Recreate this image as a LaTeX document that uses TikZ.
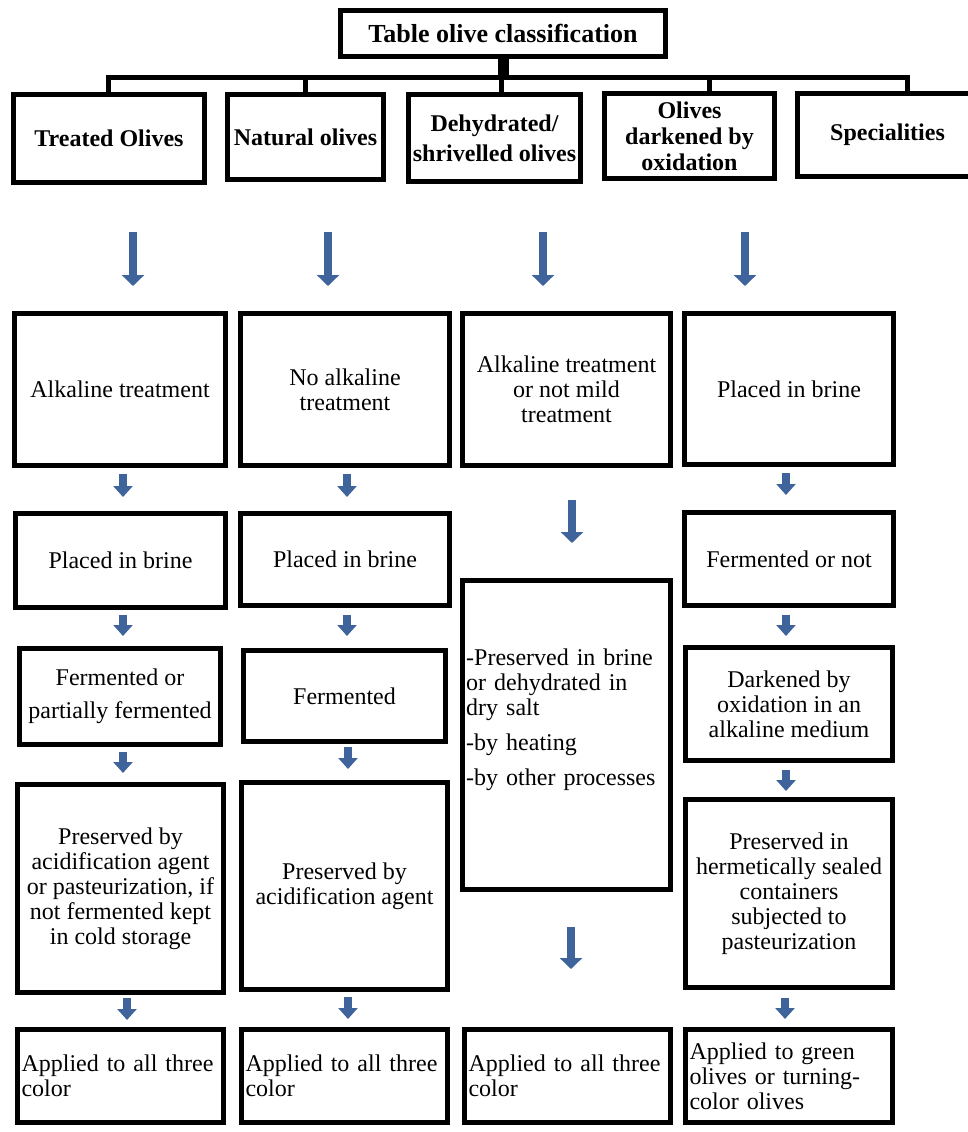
\documentclass[tikz,border=0pt]{standalone}
\usepackage{fontspec}
\setmainfont{Liberation Serif}
\usetikzlibrary{arrows.meta}
\definecolor{arrowblue}{RGB}{62,100,155}
\tikzset{
  box/.style={draw=black, line width=5pt, inner sep=2pt, align=center,
              font=\fontsize{24}{25}\selectfont},
  hbox/.style={box, font=\bfseries\fontsize{24}{26}\selectfont},
  lbox/.style={box, align=left, inner xsep=4pt},
  bigarr/.style={draw=arrowblue, line width=8pt, -{Triangle[width=22pt,length=11pt]}},
  smallarr/.style={draw=arrowblue, line width=7.5pt, -{Triangle[width=19pt,length=11pt]}},
  conn/.style={draw=black, line width=5pt, line join=miter}
}
\begin{document}
\begin{tikzpicture}[x=1pt,y=-1pt]
\useasboundingbox (0,0) rectangle (967,1132);

% title
\node[hbox, font=\bfseries\fontsize{26}{28}\selectfont, minimum width=325pt, minimum height=46pt] (title) at (503,33.5) {Table olive classification};

% row 1
\node[hbox, minimum width=191pt, minimum height=88pt] (r1a) at (109,138.5) {Treated Olives};
\node[hbox, minimum width=156pt, minimum height=85pt] (r1b) at (305.5,137) {Natural olives};
\node[hbox, font=\bfseries\fontsize{24}{30}\selectfont, minimum width=172pt, minimum height=87pt] (r1c) at (494.5,138) {Dehydrated/\\shrivelled olives};
\node[hbox, minimum width=170pt, minimum height=85pt] (r1d) at (689.5,136) {Olives\\darkened by\\oxidation};
\node[hbox, minimum width=180pt, minimum height=83pt] (r1e) at (887.5,135) {Specialities};

% bus connectors
\coordinate (busL) at (108,77);
\coordinate (busR) at (907,77);
\coordinate (j2) at (305,77);
\coordinate (j3) at (501,77);
\coordinate (j4) at (709,77);
\draw[conn, line width=11pt] (title.south) -- (title.south |- busL);
\draw[conn] (busL |- r1a.north) -- (busL) -- (busR) -- (busR |- r1e.north);
\draw[conn] (j2) -- (j2 |- r1b.north);
\draw[conn] (j3) -- (j3 |- r1c.north);
\draw[conn] (j4) -- (j4 |- r1d.north);

% row 2
\node[box, minimum width=211pt, minimum height=152pt] (r2a) at (120,389.5) {Alkaline treatment};
\node[box, minimum width=209pt, minimum height=152pt] (r2b) at (345,389.5) {No alkaline\\treatment};
\node[box, minimum width=208pt, minimum height=152pt] (r2c) at (566.5,389.5) {Alkaline treatment\\or not mild\\treatment};
\node[box, minimum width=209pt, minimum height=151pt] (r2d) at (789,389) {Placed in brine};

% row 3
\node[box, minimum width=210pt, minimum height=94pt] (r3a) at (120.5,560.5) {Placed in brine};
\node[box, minimum width=209pt, minimum height=92pt] (r3b) at (345,559.5) {Placed in brine};
\node[box, minimum width=208pt, minimum height=309pt] (r3c) at (566.5,735) {};
\node[anchor=north west, inner sep=0pt, align=left, text width=205pt,
      font=\fontsize{24}{25}\selectfont] (c3txt) at (466,649)
  {-Preserved in brine\\or dehydrated in\\dry salt\\[10pt]-by heating\\[10pt]-by other processes};
\node[box, minimum width=209pt, minimum height=93pt] (r3d) at (789,559) {Fermented or not};

% row 4
\node[box, minimum width=201pt, minimum height=96pt] (r4a) at (120,696.5) {Fermented or\\[8pt]partially fermented};
\node[box, minimum width=202pt, minimum height=91pt] (r4b) at (344.5,696) {Fermented};
\node[box, minimum width=207pt, minimum height=113pt] (r4d) at (789,704) {Darkened by\\oxidation in an\\alkaline medium};

% row 5
\node[box, minimum width=206pt, minimum height=208pt] (r5a) at (120.5,888.5) {Preserved by\\acidification agent\\or pasteurization, if\\not fermented kept\\in cold storage};
\node[box, minimum width=206pt, minimum height=207pt] (r5b) at (344.5,886) {Preserved by\\acidification agent};
\node[box, minimum width=207pt, minimum height=188pt] (r5d) at (789,893.5) {Preserved in\\hermetically sealed\\containers\\subjected to\\pasteurization};

% row 6
\node[lbox, text width=198pt, minimum height=93pt] (r6a) at (120.5,1076) {Applied to all three\\color};
\node[lbox, text width=198pt, minimum height=93pt] (r6b) at (344.5,1076) {Applied to all three\\color};
\node[lbox, text width=198pt, minimum height=93pt] (r6c) at (567.5,1076) {Applied to all three\\color};
\node[lbox, text width=199pt, minimum height=93pt] (r6d) at (789,1076) {Applied to green\\olives or turning-\\color olives};

% big arrows row1 -> row2
\coordinate (a1s) at (133,232); \coordinate (a1e) at (133,286);
\coordinate (a2s) at (328,232); \coordinate (a2e) at (328,286);
\coordinate (a3s) at (543,232); \coordinate (a3e) at (543,286);
\coordinate (a4s) at (745,232); \coordinate (a4e) at (745,286);
\draw[bigarr] (a1s) -- (a1e);
\draw[bigarr] (a2s) -- (a2e);
\draw[bigarr] (a3s) -- (a3e);
\draw[bigarr] (a4s) -- (a4e);

% row2 -> row3
\coordinate (b1s) at (123,474); \coordinate (b1e) at (123,497);
\coordinate (b2s) at (347,474); \coordinate (b2e) at (347,497);
\coordinate (b3s) at (572,500); \coordinate (b3e) at (572,543);
\coordinate (b4s) at (786,473); \coordinate (b4e) at (786,495);
\draw[smallarr] (b1s) -- (b1e);
\draw[smallarr] (b2s) -- (b2e);
\draw[bigarr] (b3s) -- (b3e);
\draw[smallarr] (b4s) -- (b4e);

% row3 -> row4
\coordinate (c1s) at (123,615); \coordinate (c1e) at (123,636);
\coordinate (c2s) at (347,615); \coordinate (c2e) at (347,636);
\coordinate (c4s) at (786,615); \coordinate (c4e) at (786,636);
\draw[smallarr] (c1s) -- (c1e);
\draw[smallarr] (c2s) -- (c2e);
\draw[smallarr] (c4s) -- (c4e);

% row4 -> row5
\coordinate (d1s) at (123,752); \coordinate (d1e) at (123,773);
\coordinate (d2s) at (348,747); \coordinate (d2e) at (348,769);
\coordinate (d4s) at (786,770); \coordinate (d4e) at (786,791);
\draw[smallarr] (d1s) -- (d1e);
\draw[smallarr] (d2s) -- (d2e);
\draw[smallarr] (d4s) -- (d4e);

% row5 -> row6
\coordinate (e1s) at (127,998); \coordinate (e1e) at (127,1020);
\coordinate (e2s) at (348,997); \coordinate (e2e) at (348,1019);
\coordinate (e3s) at (571,927); \coordinate (e3e) at (571,969);
\coordinate (e4s) at (785,998); \coordinate (e4e) at (785,1019);
\draw[smallarr] (e1s) -- (e1e);
\draw[smallarr] (e2s) -- (e2e);
\draw[bigarr] (e3s) -- (e3e);
\draw[smallarr] (e4s) -- (e4e);
\end{tikzpicture}
\end{document}
